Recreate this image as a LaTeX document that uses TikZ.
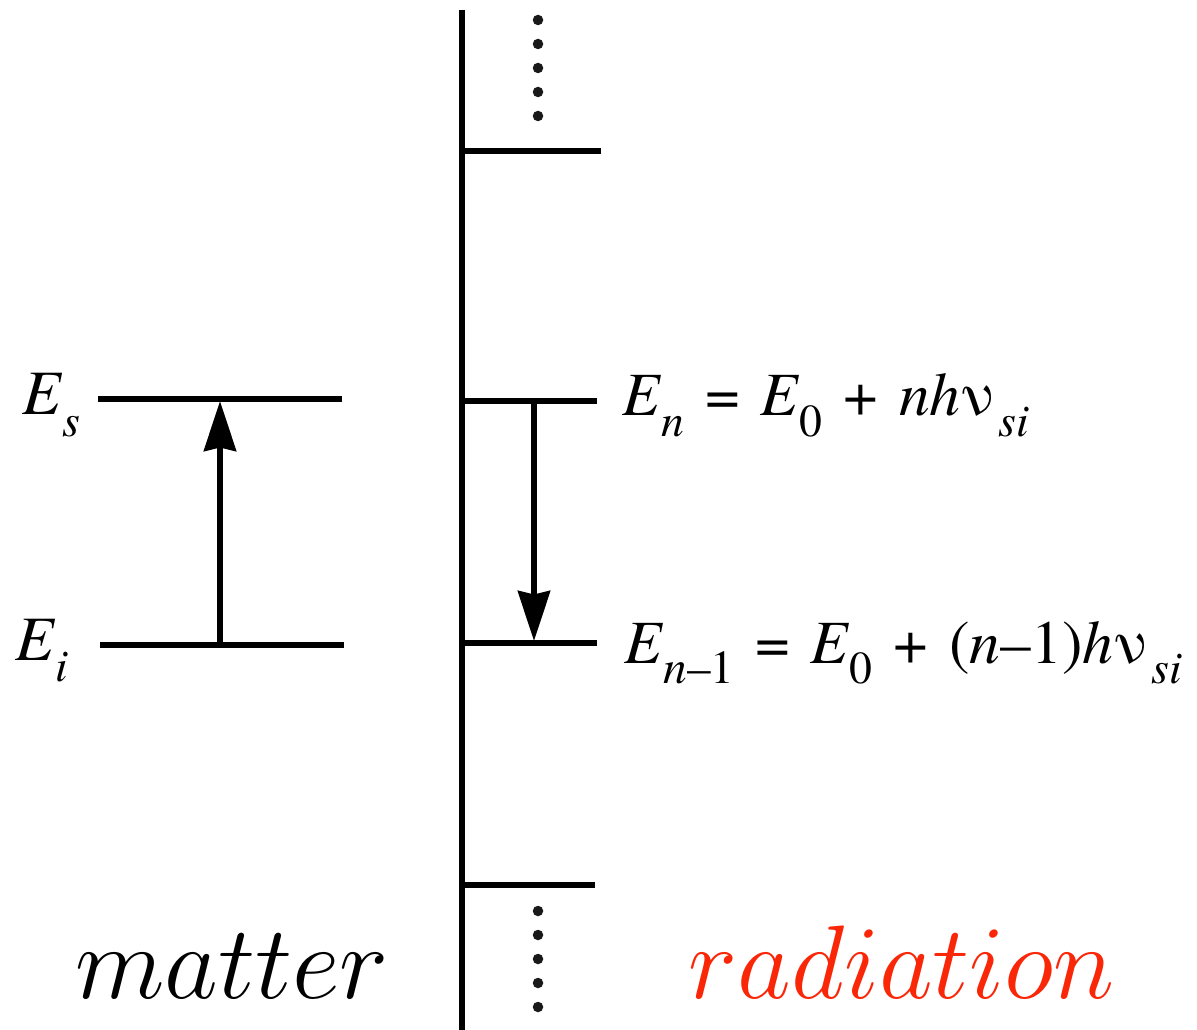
\RequirePackage{fix-cm}
\documentclass[tikz,border=0pt]{standalone}
\usepackage{fontspec}
\setmainfont{texgyretermes}[Extension=.otf, UprightFont=*-regular, ItalicFont=*-italic, BoldFont=*-bold]
\usetikzlibrary{arrows.meta, positioning}
\definecolor{radred}{RGB}{250,38,8}
\newcommand{\lsub}[2][26]{\raisebox{-0.34em}{\fontsize{#1}{#1}\selectfont #2}}
\newcommand{\ws}{\hspace{0.34em}}

\begin{document}
\begin{tikzpicture}[x=0.02cm, y=-0.02cm,
    level/.style={line width=3.4pt},
    axis/.style={line width=3.6pt},
    trans/.style={line width=3.4pt, -{Stealth[length=1cm, width=0.64cm, inset=0.07cm]}},
    dot/.style={circle, fill=black!90, inner sep=0pt, minimum size=0.21cm},
    eqn/.style={anchor=base west, inner sep=0pt, font=\rmfamily\fontsize{35}{37}\selectfont},
    elab/.style={anchor=base west, inner sep=0pt, font=\rmfamily\fontsize{36}{38}\selectfont},
    side/.style={anchor=base west, inner sep=0pt, font=\fontsize{59.5}{60}\selectfont}
]
\useasboundingbox (0,0) rectangle (1197,1030);
% central axis
\draw[axis] (462,10) -- (462,1030);
% radiation levels
\coordinate (top) at (462,151);
\coordinate (n) at (462,401);
\coordinate (nm) at (462,643);
\coordinate (bot) at (462,885);
\draw[level] (top) -- ++(139,0);
\draw[level] (n) -- ++(135,0);
\draw[level] (nm) -- ++(135,0);
\draw[level] (bot) -- ++(133,0);
% matter levels
\coordinate (s) at (98,399);
\coordinate (i) at (100,645);
\draw[level] (s) -- ++(244,0);
\draw[level] (i) -- ++(244,0);
% transitions
\coordinate (up0) at (220,645);
\coordinate (up1) at (220,401);
\coordinate (dn0) at (534,401);
\coordinate (dn1) at (534,641);
\draw[trans] (up0) -- (up1);
\draw[trans] (dn0) -- (dn1);
% dots
\foreach \k in {0,...,4} {
  \node[dot] (td\k) at (538,20+24*\k) {};
  \node[dot] (bd\k) at (538,911+24*\k) {};
}
% labels
\node[elab] (les) at (22,415) {\textit{E}\lsub[26]{\textit{s}}};
\node[elab] (lei) at (15,660) {\textit{E}\lsub[26]{\textit{i}}};
\node[eqn] (len) at (622,416) {\textit{E}\lsub{\textit{n}}\ws=\ws\textit{E}\lsub{0}\ws+\ws\textit{nh}ν\hspace{0.08em}\lsub{\textit{si}}};
\node[eqn] (lenm) at (624,663) {\textit{E}\lsub[27]{\textit{n}–1}\ws=\ws\textit{E}\lsub{0}\ws+\ws(\textit{n}–1)\textit{h}ν\hspace{0.08em}\lsub{\textit{si}}};
\node[side] (mat) at (75,998) {$matter$};
\node[side, text=radred] (rad) at (688,998) {$radiation$};
\end{tikzpicture}
\end{document}
